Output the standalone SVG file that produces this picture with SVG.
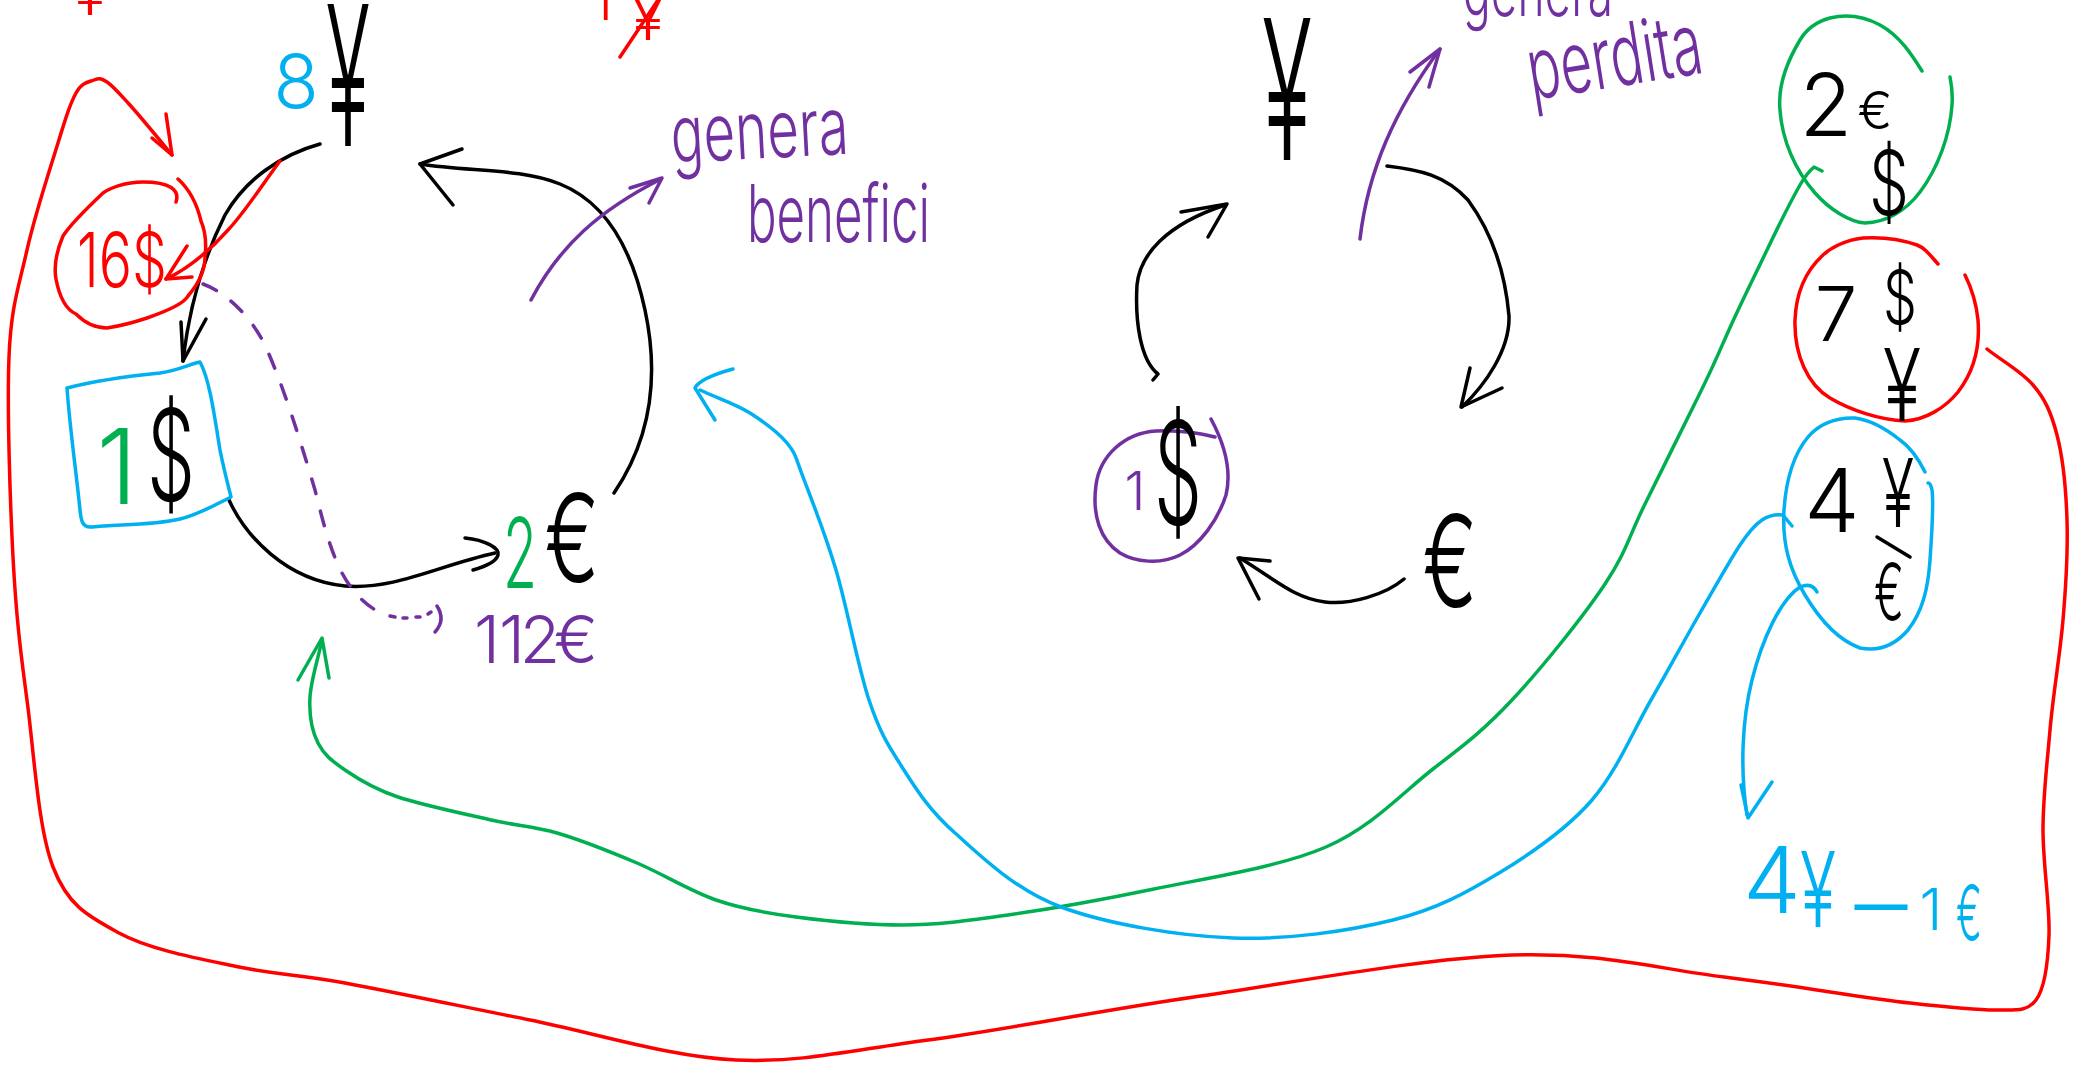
<svg xmlns="http://www.w3.org/2000/svg" width="2080" height="1065" viewBox="0 0 2080 1065">
<style>
.s{fill:none;stroke-linecap:round;stroke-linejoin:round;stroke-width:3.5}
.k{stroke:#000}
.r{stroke:#FF0000}
.g{stroke:#00B050}
.c{stroke:#00B0F0}
.p{stroke:#7030A0}
.h{font-family:Inter,'DejaVu Sans','Liberation Sans',sans-serif;font-weight:300;text-anchor:middle}
.w{font-family:Inter,'DejaVu Sans','Liberation Sans',sans-serif;font-weight:300}
.fk{fill:#000}.fr{fill:#FF0000}.fg{fill:#00B050}.fc{fill:#00B0F0}.fp{fill:#7030A0}
</style>
<rect width="2080" height="1065" fill="#fff"/>

<g id="connectors">
  <path class="s r" stroke-width="4.5" d="M1987,349 C2002,361 2021,371 2033,385 S2051,412 2057,435 S2066,489 2067,520 S2066,585 2063,620 S2053,695 2050,730 S2043,796 2043,830 S2050,907 2049,935 S2045,988 2036,1000 S2016,1010 1995,1010 S1955,1008 1910,1003 S1790,985 1724,977 S1600,952 1512,955 S1291,983 1194,997 S1004,1030 928,1040 S802,1063 736,1060 S595,1033 530,1020 S393,992 345,983 S277,975 239,967 S150,950 119,933 S68,906 53,867 S34,752 27,700 S16,614 13,557 S7,408 9,357 S19,286 27,250 S50,169 58,143 S70,104 76,93 S89,82 94,80 S101,78 107,82 S118,92 129,104 S158,138 172,155"/>
  <path class="s r" stroke-width="4" d="M152,138 L172,155 L166,114"/>
  <path class="s g" d="M1822,171 L1814,167 C1808,172 1804,178 1800,185 S1778,227 1767,250 S1744,297 1733,321 S1715,363 1700,393 S1661,472 1645,504 S1627,551 1605,584 S1541,669 1512,700 S1464,745 1433,769 S1372,827 1326,847 S1207,878 1154,889 S1050,909 1008,915 S937,925 902,925 S827,921 796,917 S742,909 716,900 S663,874 637,863 S581,840 557,833 S517,826 491,820 S422,805 398,797 S358,779 345,770 S324,755 318,743 S309,714 310,697 S318,659 322,640"/>
  <path class="s g" stroke-width="4" d="M298,680 L322,638 L329,678"/>
  <path class="s c" d="M1792,526 L1783,515 C1775,514 1768,516 1762,520 S1750,530 1740,545 S1715,587 1700,613 S1669,669 1651,700 S1617,771 1592,800 S1532,853 1499,873 S1437,909 1393,920 S1288,940 1233,938 S1107,924 1061,907 S981,856 955,833 S916,789 902,767 S880,733 869,700 S847,607 836,570 S811,498 803,477 S796,454 787,443 S764,422 750,413 S717,398 700,390"/>
  <path class="s c" stroke-width="4.5" d="M733,369 Q700,378 695,388 L715,420"/>
  <path class="s c" d="M1817,592 Q1812,582 1800,587 C1780,600 1762,640 1752,680 C1742,720 1740,770 1747,815"/>
  <path class="s c" d="M1741,785 L1748,818 L1772,782"/>

  <path class="s k" d="M320,144 C280,155 245,180 225,215 C205,255 190,300 183,361"/>
  <path class="s k" d="M181,322 L183,361 L206,319"/>
  <path class="s r" d="M280,161 C262,185 245,212 228,230 C210,250 190,268 166,279"/>
  <path class="s r" d="M187,246 L166,279 L192,277"/>
  <path class="s k" d="M229,500 C245,535 285,580 345,586 C395,590 440,565 495,553"/>
  <path class="s k" stroke-width="4" d="M465,538 C485,540 500,548 498,555 C496,563 480,568 473,570"/>
  <path class="s k" d="M614,493 C650,440 660,380 645,310 C630,240 600,200 560,184 C520,168 470,172 420,164"/>
  <path class="s k" stroke-width="4.5" d="M462,149 L420,164 L453,205"/>
  <path class="s p" d="M531,300 C560,245 600,210 661,179"/>
  <path class="s p" d="M630,188 L662,178 L649,203"/>
  <path class="s p" stroke-width="3" stroke-dasharray="15 18" d="M203,284 C225,292 250,315 265,345 C285,390 300,440 315,490 C325,530 335,570 355,592 C365,605 380,615 395,617"/>
  <path class="s p" stroke-width="3" d="M403,618 L407,618 M416,617 L420,617 M428,614 L431,612 M437,606 Q446,620 435,632"/>

  <path class="s k" d="M1387,166 C1420,170 1445,175 1468,200 C1490,230 1505,270 1509,316 C1510,350 1485,385 1462,407"/>
  <path class="s k" stroke-width="5" d="M1470,368 L1461,407 L1502,388"/>
  <path class="s k" d="M1404,579 C1385,595 1350,605 1325,602 C1295,598 1280,583 1240,558"/>
  <path class="s k" stroke-width="5" d="M1270,561 L1238,558 L1259,599"/>
  <path class="s k" d="M1153,380 L1158,374 C1140,360 1135,320 1137,285 C1140,255 1165,225 1225,205"/>
  <path class="s k" stroke-width="5" d="M1181,212 L1227,204 L1208,237"/>
  <path class="s p" d="M1360,239 C1368,170 1395,110 1440,49"/>
  <path class="s p" d="M1410,72 L1440,49 L1429,87"/>
</g>

<g id="top-notes">
  <text class="h fr" x="90" y="15" font-size="60">¥</text>
  <text class="h fr" x="602" y="20" font-size="55">1</text>
  <text class="h fr" x="648" y="40" font-size="60">¥</text>
  <path class="s r" d="M658,0 L620,57"/>
</g>

<g id="node-yen-left">
  <text class="h fc" x="296" y="108" font-size="74">8</text>
  <text class="h fk" x="348" y="146" font-size="195" textLength="44" lengthAdjust="spacingAndGlyphs">¥</text>
</g>

<g id="node-16usd">
  <path class="s r" d="M176,202 C180,190 170,182 143,182 C125,182 110,188 103,193 C85,210 70,225 63,236 C55,255 54,268 56,279 C60,300 67,310 76,314 C85,323 95,328 107,328 C120,326 135,322 147,318 C170,310 185,302 188,296 C200,282 205,268 205,257 C207,240 204,228 201,221 C196,200 188,188 178,179"/>
  <text class="h fr" x="122" y="287" font-size="75" textLength="90" lengthAdjust="spacingAndGlyphs">16$</text>
</g>

<g id="node-usd-box">
  <path class="s c" d="M67,388 C90,382 130,376 160,373 C180,370 190,364 200,362 C210,380 215,420 220,450 C224,470 228,485 231,497 C215,505 200,514 180,519 C150,526 115,524 92,527 C82,528 81,520 80,510 C76,470 70,430 67,388"/>
  <text class="h fg" x="117" y="504" font-size="104">1</text>
  <text class="h fk" x="171" y="501" font-size="128" textLength="48" lengthAdjust="spacingAndGlyphs">$</text>
</g>

<g id="node-eur-left">
  <text class="h fg" x="520" y="588" font-size="98" textLength="34" lengthAdjust="spacingAndGlyphs">2</text>
  <text class="h fk" x="572" y="582" font-size="122" textLength="55" lengthAdjust="spacingAndGlyphs">€</text>
  <text class="h fp" font-size="66" y="663"><tspan x="487">1</tspan><tspan x="512">1</tspan><tspan x="540">2</tspan><tspan x="576">€</tspan></text>
</g>

<g id="label-benefici">
  <text class="w fp" x="672" y="163" font-size="80" textLength="178" lengthAdjust="spacingAndGlyphs" transform="rotate(-3 672 163)">genera</text>
  <text class="w fp" x="747" y="242" font-size="80" textLength="183" lengthAdjust="spacingAndGlyphs">benefici</text>
</g>

<g id="node-yen-right">
  <text class="h fk" x="1287" y="160" font-size="195" textLength="50" lengthAdjust="spacingAndGlyphs">¥</text>
</g>

<g id="node-usd-right">
  <path class="s p" d="M1215,437 C1195,432 1175,430 1156,431 C1125,433 1100,455 1096,485 C1092,515 1100,540 1120,553 C1135,562 1160,565 1180,555 C1200,545 1218,520 1226,495 C1232,470 1225,445 1211,419"/>
  <text class="h fp" x="1135" y="510" font-size="53">1</text>
  <text class="h fk" x="1178" y="524" font-size="142" textLength="48" lengthAdjust="spacingAndGlyphs">$</text>
</g>

<g id="node-eur-right">
  <text class="h fk" x="1450" y="607" font-size="128" textLength="55" lengthAdjust="spacingAndGlyphs">€</text>
</g>

<g id="label-perdita">
  <text class="w fp" x="1463" y="16" font-size="72" textLength="150" lengthAdjust="spacingAndGlyphs">genera</text>
  <text class="w fp" x="1532" y="100" font-size="86" textLength="176" lengthAdjust="spacingAndGlyphs" transform="rotate(-9 1532 100)">perdita</text>
</g>

<g id="node-2eur">
  <path class="s g" d="M1922,71 C1912,55 1900,36 1880,25 C1865,17 1847,14 1830,18 C1815,22 1806,30 1800,40 C1785,65 1778,90 1780,110 C1782,140 1795,170 1815,193 C1830,210 1850,222 1865,223 C1885,222 1905,212 1920,192 C1938,168 1950,135 1952,105 C1953,92 1951,82 1950,77"/>
  <text class="h fk" x="1826" y="136" font-size="86">2</text>
  <text class="h fk" x="1875" y="129" font-size="52">€</text>
  <text class="h fk" x="1889" y="215" font-size="90" textLength="40" lengthAdjust="spacingAndGlyphs">$</text>
</g>

<g id="node-7usd">
  <path class="s r" d="M1938,264 C1930,255 1925,248 1917,245 C1900,239 1880,237 1863,238 C1845,240 1830,248 1822,256 C1805,272 1796,295 1795,320 C1794,355 1808,385 1830,398 C1850,410 1880,420 1905,421 C1925,420 1945,408 1958,392 C1975,370 1980,345 1978,320 C1976,300 1970,285 1965,275"/>
  <text class="h fk" x="1836" y="341" font-size="76">7</text>
  <text class="h fk" x="1900" y="324" font-size="74" textLength="34" lengthAdjust="spacingAndGlyphs">$</text>
  <text class="h fk" x="1902" y="421" font-size="100" textLength="38" lengthAdjust="spacingAndGlyphs">¥</text>
</g>

<g id="node-4yen">
  <path class="s c" d="M1925,472 C1918,458 1910,447 1900,440 C1885,428 1870,420 1855,418 C1835,417 1818,425 1808,437 C1793,455 1786,480 1784,510 C1782,545 1790,570 1805,595 C1820,620 1838,640 1860,648 C1880,652 1895,645 1908,630 C1922,612 1928,590 1930,560 C1932,530 1934,505 1932,490 C1931,485 1930,483 1928,483"/>
  <text class="h fk" x="1832" y="532" font-size="88">4</text>
  <text class="h fk" x="1898" y="527" font-size="95" textLength="32" lengthAdjust="spacingAndGlyphs">¥</text>
  <path class="s k" d="M1877,537 L1910,557"/>
  <text class="h fk" x="1889" y="620" font-size="78" textLength="30" lengthAdjust="spacingAndGlyphs">€</text>
</g>

<g id="label-rate">
  <text class="h fc" x="1772" y="913" font-size="92">4</text>
  <text class="h fc" x="1818" y="927" font-size="105" textLength="36" lengthAdjust="spacingAndGlyphs">¥</text>
  <text class="h fc" x="1881" y="935" font-size="90" textLength="53" lengthAdjust="spacingAndGlyphs">–</text>
  <text class="h fc" x="1931" y="930" font-size="58">1</text>
  <text class="h fc" x="1969" y="940" font-size="76" textLength="26" lengthAdjust="spacingAndGlyphs">€</text>
</g>
</svg>
